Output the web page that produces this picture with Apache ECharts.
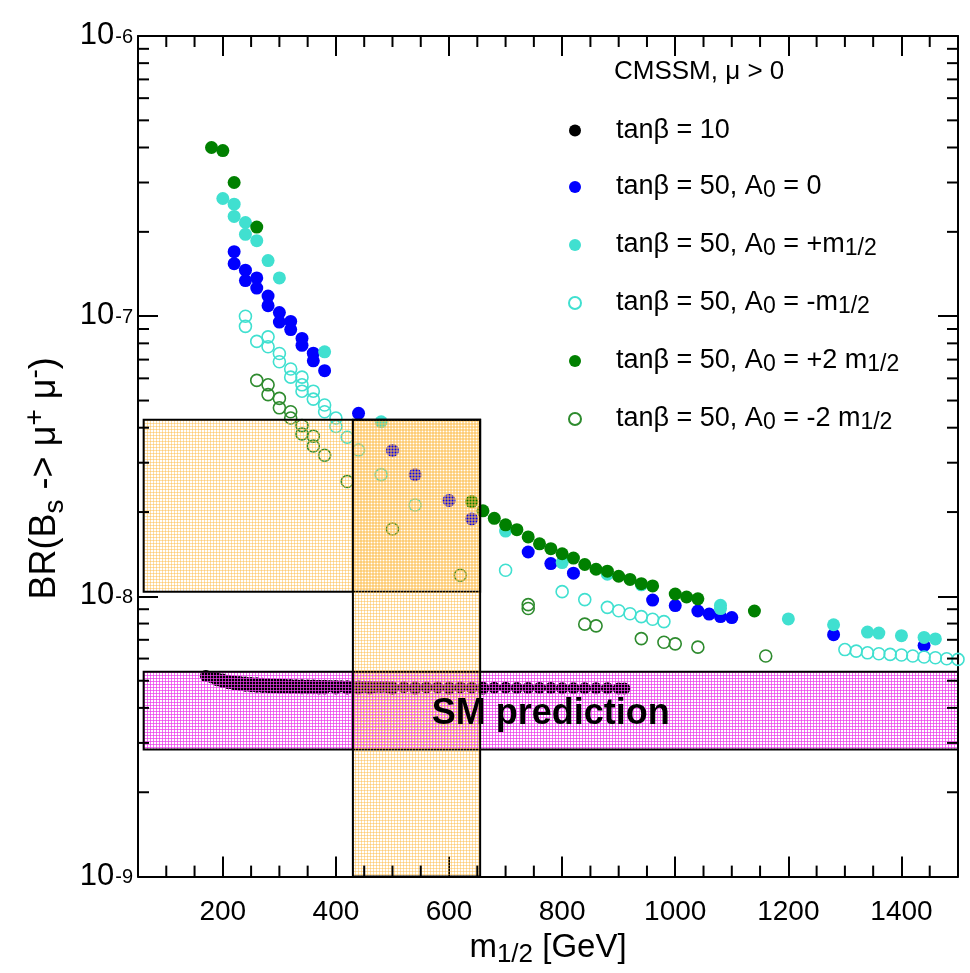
<!DOCTYPE html>
<html>
<head>
<meta charset="utf-8">
<script src="https://cdn.jsdelivr.net/npm/echarts@6/dist/echarts.min.js"></script>
<style>
  html, body { margin: 0; padding: 0; background: #fff; }
  #chart { width: 970px; height: 973px; }
</style>
</head>
<body>
<div id="chart"></div>
<script>
// ---- data: m_1/2 [GeV] vs BR(Bs -> mu+ mu-) ----
const tb10 = [
  [170,5.20e-9],[180,5.15e-9],[190,5.10e-9],[190,5.02e-9],[200,5.05e-9],[200,4.95e-9],[210,5.00e-9],[210,4.90e-9],
  [220,4.97e-9],[220,4.86e-9],[230,4.95e-9],[230,4.83e-9],[240,4.93e-9],[240,4.80e-9],[250,4.91e-9],[250,4.78e-9],
  [260,4.90e-9],[260,4.76e-9],[270,4.88e-9],[270,4.75e-9],[280,4.87e-9],[280,4.74e-9],[290,4.86e-9],[290,4.73e-9],
  [300,4.85e-9],[300,4.72e-9],[310,4.84e-9],[310,4.72e-9],[320,4.83e-9],[320,4.71e-9],[330,4.82e-9],[330,4.71e-9],
  [340,4.82e-9],[340,4.70e-9],[350,4.81e-9],[350,4.70e-9],[360,4.81e-9],[360,4.70e-9],[370,4.80e-9],[370,4.69e-9],
  [380,4.80e-9],[380,4.69e-9],[390,4.79e-9],[400,4.79e-9],[400,4.69e-9],[410,4.78e-9],[420,4.78e-9],[420,4.69e-9],
  [430,4.77e-9],[440,4.77e-9],[440,4.69e-9],[450,4.76e-9],[460,4.76e-9],[460,4.69e-9],[470,4.75e-9],[480,4.75e-9],
  [490,4.75e-9],[500,4.74e-9],[500,4.68e-9],[520,4.74e-9],[540,4.74e-9],[540,4.68e-9],[560,4.73e-9],[580,4.73e-9],
  [600,4.73e-9],[600,4.68e-9],[620,4.73e-9],[640,4.72e-9],[660,4.72e-9],[660,4.68e-9],[680,4.72e-9],[700,4.72e-9],
  [720,4.71e-9],[740,4.71e-9],[760,4.71e-9],[780,4.71e-9],[800,4.70e-9],[820,4.70e-9],[840,4.70e-9],[860,4.70e-9],
  [880,4.70e-9],[900,4.69e-9],[910,4.69e-9]
];
const tb50A0zero = [
  [220,1.70e-7],[220,1.54e-7],[240,1.46e-7],[240,1.34e-7],[260,1.37e-7],[260,1.26e-7],[280,1.18e-7],[280,1.09e-7],
  [300,1.03e-7],[300,9.53e-8],[320,9.58e-8],[320,8.96e-8],[340,8.33e-8],[340,7.87e-8],[360,7.38e-8],[360,6.93e-8],
  [380,6.39e-8],[440,4.50e-8],[500,3.32e-8],[540,2.72e-8],[600,2.20e-8],[640,1.89e-8],[740,1.44e-8],[780,1.31e-8],
  [820,1.21e-8],[960,9.70e-9],[1000,9.27e-9],[1040,8.87e-9],[1060,8.65e-9],[1080,8.47e-9],[1100,8.40e-9],
  [1280,7.30e-9],[1440,6.68e-9]
];
const tb50A0plus = [
  [200,2.63e-7],[220,2.51e-7],[220,2.27e-7],[240,2.16e-7],[240,1.96e-7],[260,1.86e-7],[280,1.58e-7],[300,1.37e-7],
  [380,7.46e-8],[480,4.20e-8],[700,1.71e-8],[800,1.32e-8],[880,1.20e-8],[940,1.10e-8],[1080,9.30e-9],[1080,9.05e-9],
  [1200,8.31e-9],[1280,7.92e-9],[1340,7.46e-9],[1360,7.40e-9],[1400,7.24e-9],[1440,7.14e-9],[1460,7.05e-9]
];
const tb50A0minus = [
  [240,1.00e-7],[240,9.20e-8],[260,8.13e-8],[280,8.44e-8],[280,7.78e-8],[300,7.36e-8],[300,6.88e-8],[320,6.48e-8],
  [320,6.06e-8],[340,6.06e-8],[340,5.69e-8],[340,5.40e-8],[360,5.40e-8],[360,5.06e-8],[380,4.82e-8],[380,4.56e-8],
  [400,4.33e-8],[400,4.04e-8],[420,3.70e-8],[440,3.33e-8],[480,2.72e-8],[540,2.12e-8],[700,1.24e-8],[800,1.04e-8],
  [840,9.74e-9],[880,9.14e-9],[900,8.89e-9],[920,8.67e-9],[940,8.47e-9],[960,8.29e-9],[980,8.13e-9],
  [1300,6.46e-9],[1320,6.38e-9],[1340,6.29e-9],[1360,6.24e-9],[1380,6.21e-9],[1400,6.18e-9],[1420,6.13e-9],
  [1440,6.08e-9],[1460,6.04e-9],[1480,5.99e-9],[1500,5.96e-9]
];
const tb50A0plus2 = [
  [180,4.00e-7],[200,3.90e-7],[220,3.00e-7],[260,2.08e-7],[640,2.18e-8],[660,2.02e-8],[680,1.90e-8],[700,1.80e-8],
  [720,1.73e-8],[740,1.63e-8],[760,1.54e-8],[780,1.48e-8],[800,1.42e-8],[820,1.37e-8],[840,1.30e-8],[860,1.25e-8],
  [880,1.23e-8],[900,1.18e-8],[920,1.15e-8],[940,1.11e-8],[960,1.09e-8],[1000,1.02e-8],[1020,9.95e-9],[1040,9.80e-9],
  [1140,8.87e-9]
];
const tb50A0minus2 = [
  [260,5.90e-8],[280,5.69e-8],[280,5.25e-8],[300,5.09e-8],[300,4.71e-8],[320,4.56e-8],[320,4.33e-8],[340,4.07e-8],
  [340,3.80e-8],[360,3.73e-8],[360,3.44e-8],[380,3.19e-8],[420,2.57e-8],[500,1.74e-8],[620,1.19e-8],[740,9.35e-9],
  [740,9.05e-9],[840,7.96e-9],[860,7.85e-9],[940,7.07e-9],[980,6.86e-9],[1000,6.77e-9],[1040,6.59e-9],[1160,6.13e-9]
];

// experimental limits (horizontal lines)
const limitSolid = 3.4e-7;
const limitDotted = 5.4e-8;

// shaded regions: [m_min, m_max, BR_min, BR_max]
const smBand = [60, 1500, 2.84e-9, 5.38e-9];
const brWindow = [60, 655, 1.04e-8, 4.27e-8];
const massWindow = [430, 655, 1.0e-9, 4.27e-8];

// axes
const xRange = [50, 1500];
const yRange = [1e-9, 1e-6];
const xMajorTicks = [200, 400, 600, 800, 1000, 1200, 1400];
const xMinorTicks = [100, 150, 250, 300, 350, 450, 500, 550, 650, 700, 750, 850, 900, 950,
                     1050, 1100, 1150, 1250, 1300, 1350, 1450];
const yMinorTicks = [2e-9, 3e-9, 4e-9, 5e-9, 6e-9, 7e-9, 8e-9, 9e-9,
                     2e-8, 3e-8, 4e-8, 5e-8, 6e-8, 7e-8, 8e-8, 9e-8,
                     2e-7, 3e-7, 4e-7, 5e-7, 6e-7, 7e-7, 8e-7, 9e-7];

const seriesNames = [
  'tanβ = 10',
  'tanβ = 50, A0 = 0',
  'tanβ = 50, A0 = +m1/2',
  'tanβ = 50, A0 = -m1/2',
  'tanβ = 50, A0 = +2 m1/2',
  'tanβ = 50, A0 = -2 m1/2'
];
const legendRich = {
  'tanβ = 10': '{g|}{t|tanβ = 10}',
  'tanβ = 50, A0 = 0': '{g|}{t|tanβ = 50, A}{sub|0}{t| = 0}',
  'tanβ = 50, A0 = +m1/2': '{g|}{t|tanβ = 50, A}{sub|0}{t| = +m}{sub|1/2}',
  'tanβ = 50, A0 = -m1/2': '{g|}{t|tanβ = 50, A}{sub|0}{t| = -m}{sub|1/2}',
  'tanβ = 50, A0 = +2 m1/2': '{g|}{t|tanβ = 50, A}{sub|0}{t| = +2 m}{sub|1/2}',
  'tanβ = 50, A0 = -2 m1/2': '{g|}{t|tanβ = 50, A}{sub|0}{t| = -2 m}{sub|1/2}'
};

const FONT = "'Liberation Sans', Arial, sans-serif";
const chart = echarts.init(document.getElementById('chart'), null, { renderer: 'canvas' });

// fine grid hatch used for the shaded regions; the phase shift lets
// overlapping regions read darker where they cross
function gridPattern(rgba, period, phase) {
  const c = document.createElement('canvas');
  c.width = period; c.height = period;
  const g = c.getContext('2d');
  g.fillStyle = rgba;
  g.fillRect(0, phase, period, 1);
  g.fillRect(phase, 0, 1, period);
  return { image: c, repeat: 'repeat' };
}
const smFill = gridPattern('rgba(235, 60, 235, 0.72)', 3, 0);
const brFill = gridPattern('rgba(252, 185, 70, 0.48)', 3, 0);
const massFill = gridPattern('rgba(252, 185, 70, 0.48)', 3, 1);
const bandFills = [smFill, brFill, massFill];

function filled(name, data, color, size) {
  return {
    type: 'scatter', name, data, symbol: 'circle', symbolSize: size,
    itemStyle: { color: color, opacity: 1 },
    emphasis: { disabled: true }, xAxisIndex: 0, yAxisIndex: 0, z: 2
  };
}
function hollow(name, data, color, size) {
  return {
    type: 'scatter', name, data, symbol: 'circle', symbolSize: size,
    itemStyle: { color: 'rgba(255,255,255,0)', borderColor: color, borderWidth: 1.6, opacity: 1 },
    emphasis: { disabled: true }, xAxisIndex: 0, yAxisIndex: 0, z: 2
  };
}

function renderBand(params, api) {
  const tl = api.coord([api.value(0), api.value(3)]);
  const br = api.coord([api.value(1), api.value(2)]);
  const el = {
    type: 'rect',
    shape: { x: tl[0], y: tl[1], width: br[0] - tl[0], height: br[1] - tl[1] },
    style: { fill: bandFills[params.dataIndex], stroke: '#000', lineWidth: 2 }
  };
  if (params.dataIndex === 0) {
    el.textContent = {
      style: { text: 'SM prediction', fill: '#000', font: "bold 36px 'Liberation Sans', Arial, sans-serif" }
    };
    el.textConfig = { position: 'inside', offset: [0, 3] };
  }
  return el;
}

function renderXMinor(params, api) {
  const b = api.coord([api.value(0), yRange[0]]);
  const t = api.coord([api.value(0), yRange[1]]);
  const s = { stroke: '#000', lineWidth: 2 };
  return { type: 'group', children: [
    { type: 'line', shape: { x1: b[0], y1: b[1], x2: b[0], y2: b[1] - 11 }, style: s },
    { type: 'line', shape: { x1: t[0], y1: t[1], x2: t[0], y2: t[1] + 11 }, style: s }
  ]};
}
function renderYMinor(params, api) {
  const l = api.coord([xRange[0], api.value(1)]);
  const r = api.coord([xRange[1], api.value(1)]);
  const s = { stroke: '#000', lineWidth: 2 };
  return { type: 'group', children: [
    { type: 'line', shape: { x1: l[0], y1: l[1], x2: l[0] + 11, y2: l[1] }, style: s },
    { type: 'line', shape: { x1: r[0], y1: r[1], x2: r[0] - 11, y2: r[1] }, style: s }
  ]};
}

const axisLine = { show: true, onZero: false, lineStyle: { color: '#000', width: 2 } };

const option = {
  backgroundColor: '#fff',
  animation: false,
  title: {
    text: 'CMSSM, μ > 0', left: 614, top: 59, padding: 0,
    textStyle: { fontFamily: FONT, fontSize: 26, fontWeight: 'normal', color: '#000' }
  },
  legend: {
    orient: 'vertical', left: 563, top: 112, itemWidth: 12, itemHeight: 12, itemGap: 29.5,
    data: seriesNames, selectedMode: false,
    formatter: n => legendRich[n],
    textStyle: {
      fontFamily: FONT, fontSize: 26, color: '#000',
      rich: {
        g: { width: 30, lineHeight: 30 },
        t: { fontFamily: FONT, fontSize: 27, lineHeight: 30, verticalAlign: 'middle', color: '#000' },
        sub: { fontFamily: FONT, fontSize: 23, lineHeight: 6, verticalAlign: 'bottom', color: '#000' }
      }
    }
  },
  grid: { left: 138, right: 12, top: 25, bottom: 94, containLabel: false },
  xAxis: [
    {
      type: 'value', min: xRange[0], max: xRange[1], position: 'bottom',
      name: '{t|m}{sub|1/2}{t| [GeV]}', nameLocation: 'middle', nameGap: 48,
      nameTextStyle: {
        rich: {
          t: { fontFamily: FONT, fontSize: 33, lineHeight: 40, verticalAlign: 'middle', color: '#000' },
          sub: { fontFamily: FONT, fontSize: 26, lineHeight: 8, verticalAlign: 'bottom', color: '#000' }
        }
      },
      axisLine,
      axisTick: { show: true, inside: true, length: 20, lineStyle: { color: '#000', width: 2 }, customValues: xMajorTicks },
      axisLabel: {
        show: true, margin: 22, fontFamily: FONT, fontSize: 28, color: '#000',
        customValues: xMajorTicks, formatter: v => String(v)
      },
      splitLine: { show: false }
    },
    {
      type: 'value', min: xRange[0], max: xRange[1], position: 'top',
      axisLine,
      axisTick: { show: true, inside: true, length: 20, lineStyle: { color: '#000', width: 2 }, customValues: xMajorTicks },
      axisLabel: { show: false },
      splitLine: { show: false }
    }
  ],
  yAxis: [
    {
      type: 'log', logBase: 10, min: yRange[0], max: yRange[1], position: 'left',
      name: '{t|BR(B}{sub|s}{t| -> μ}{sup|+}{t| μ}{sup|-}{t|)}',
      nameLocation: 'middle', nameRotate: 90, nameGap: 62,
      nameTextStyle: {
        padding: [0, 44, 0, 0],
        rich: {
          t: { fontFamily: FONT, fontSize: 36, lineHeight: 48, verticalAlign: 'middle', color: '#000' },
          sub: { fontFamily: FONT, fontSize: 28, lineHeight: 8, verticalAlign: 'bottom', color: '#000' },
          sup: { fontFamily: FONT, fontSize: 28, lineHeight: 8, verticalAlign: 'top', color: '#000' }
        }
      },
      axisLine,
      axisTick: { show: true, inside: true, length: 20, lineStyle: { color: '#000', width: 2 } },
      axisLabel: {
        show: true, margin: 5,
        formatter: v => '{b|10}{s|' + Math.round(Math.log10(v)) + '}',
        rich: {
          b: { fontFamily: FONT, fontSize: 31, lineHeight: 30, padding: [20, 0, 0, 0], verticalAlign: 'bottom', color: '#000' },
          s: { fontFamily: FONT, fontSize: 20, lineHeight: 20, padding: [6, 0, 0, 1], verticalAlign: 'top', color: '#000' }
        }
      },
      splitLine: { show: false }
    },
    {
      type: 'log', logBase: 10, min: yRange[0], max: yRange[1], position: 'right',
      axisLine,
      axisTick: { show: true, inside: true, length: 20, lineStyle: { color: '#000', width: 2 } },
      axisLabel: { show: false },
      splitLine: { show: false }
    }
  ],
  series: [
    filled(seriesNames[0], tb10, '#000000', 12),
    filled(seriesNames[1], tb50A0zero, '#0000ff', 13),
    filled(seriesNames[2], tb50A0plus, '#40e0d0', 13),
    hollow(seriesNames[3], tb50A0minus, '#40e0d0', 12),
    filled(seriesNames[4], tb50A0plus2, '#008000', 13),
    hollow(seriesNames[5], tb50A0minus2, '#2e8b2e', 12),
    {
      type: 'line', name: 'limits', data: [], silent: true, z: 4,
      markLine: {
        symbol: 'none', silent: true, label: { show: false },
        data: [
          { yAxis: limitSolid, lineStyle: { color: '#1a1aff', width: 2, type: 'solid' } },
          { yAxis: limitDotted, lineStyle: { color: '#1a1aff', width: 2, type: [3, 3] } }
        ]
      }
    },
    {
      type: 'custom', name: 'regions', silent: true, z: 3,
      renderItem: renderBand,
      encode: { x: [0, 1], y: [2, 3] },
      data: [smBand, brWindow, massWindow]
    },
    {
      type: 'custom', name: 'xminor', silent: true, z: 5,
      renderItem: renderXMinor,
      encode: { x: 0, y: 1 },
      data: xMinorTicks.map(v => [v, yRange[0]])
    },
    {
      type: 'custom', name: 'yminor', silent: true, z: 5,
      renderItem: renderYMinor,
      encode: { x: 0, y: 1 },
      data: yMinorTicks.map(v => [xRange[0], v])
    }
  ]
};
chart.setOption(option);
</script>
</body>
</html>
